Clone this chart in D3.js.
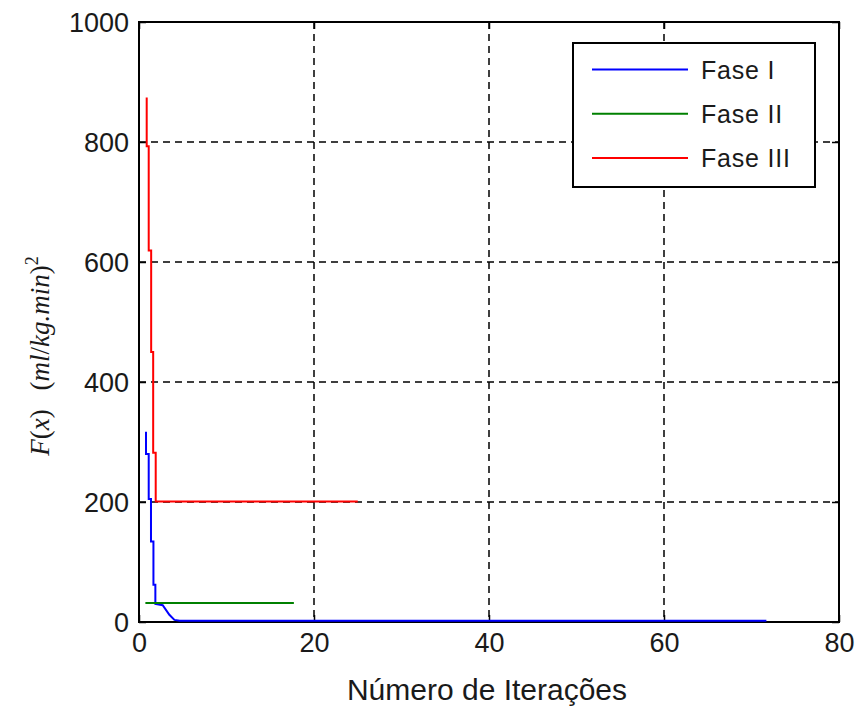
<!DOCTYPE html>
<html>
<head>
<meta charset="utf-8">
<script src="https://cdn.jsdelivr.net/npm/d3@7"></script>
<style>
  body { margin: 0; background: #fff; }
</style>
</head>
<body>
<div id="chart"></div>
<script>
// convergence of the objective per phase

var xTicks = [0, 20, 40, 60, 80];
var yTicks = [0, 200, 400, 600, 800, 1000];

var faseI = [
  [0.80, 317], [0.80, 280], [1.11, 280], [1.11, 205], [1.37, 205], [1.37, 134],
  [1.65, 134], [1.65, 62], [1.87, 62], [1.87, 30], [2.71, 28], [3.47, 12],
  [4.05, 3.5], [4.65, 2], [71.7, 2]
];
var faseII = [[0.73, 31.7], [17.7, 31.7]];
var faseIII = [
  [0.88, 874], [0.88, 793], [1.11, 793], [1.11, 619], [1.39, 619], [1.39, 450],
  [1.62, 450], [1.62, 282], [1.91, 282], [1.91, 201], [25.0, 201]
];

var series = [
  { name: "Fase I", data: faseI, color: "#0000ff" },
  { name: "Fase II", data: faseII, color: "#008000" },
  { name: "Fase III", data: faseIII, color: "#ff0000" }
];

var sans = "'Liberation Sans', Arial, sans-serif";
var serif = "'Liberation Serif', 'DejaVu Serif', serif";

var width = 861, height = 713;
var margin = { top: 22, right: 22, bottom: 91, left: 139 };
var w = width - margin.left - margin.right;
var h = height - margin.top - margin.bottom;

var svg = d3.select("#chart").append("svg")
  .attr("width", width).attr("height", height);
var g = svg.append("g").attr("transform", "translate(" + margin.left + "," + margin.top + ")");

var x = d3.scaleLinear().domain([0, 80]).range([0, w]);
var y = d3.scaleLinear().domain([0, 1000]).range([h, 0]);

// grid
g.selectAll(".gx").data(xTicks.slice(1, -1)).enter().append("line")
  .attr("x1", d => x(d)).attr("x2", d => x(d)).attr("y1", 0).attr("y2", h)
  .attr("stroke", "#000").attr("stroke-width", 1.5).attr("stroke-dasharray", "7,5");
g.selectAll(".gy").data(yTicks.slice(1, -1)).enter().append("line")
  .attr("y1", d => y(d)).attr("y2", d => y(d)).attr("x1", 0).attr("x2", w)
  .attr("stroke", "#000").attr("stroke-width", 1.5).attr("stroke-dasharray", "7,5");

// axes with inward ticks
var fmt = d3.format("d");
var xAxis = g.append("g").attr("transform", "translate(0," + h + ")")
  .call(d3.axisBottom(x).tickValues(xTicks).tickSize(-7).tickPadding(11).tickFormat(fmt));
var xTop = g.append("g")
  .call(d3.axisTop(x).tickValues(xTicks).tickSize(-7).tickFormat(""));
var yAxis = g.append("g")
  .call(d3.axisLeft(y).tickValues(yTicks).tickSize(-7).tickPadding(10).tickFormat(fmt));
var yRight = g.append("g").attr("transform", "translate(" + w + ",0)")
  .call(d3.axisRight(y).tickValues(yTicks).tickSize(-7).tickFormat(""));

[xAxis, xTop, yAxis, yRight].forEach(function(a) {
  a.attr("font-size", null).attr("font-family", null);
  a.select(".domain").remove();
  a.selectAll("line").attr("stroke", "#000").attr("stroke-width", 1.5);
  a.selectAll("text").style("font-size", "27px").style("font-family", sans).attr("fill", "#1a1a1a");
});
yAxis.selectAll("text").attr("dy", "0.36em");

g.append("rect").attr("width", w).attr("height", h)
  .attr("fill", "none").attr("stroke", "#000").attr("stroke-width", 2);

// lines
var line = d3.line().x(d => x(d[0])).y(d => y(d[1]));
series.forEach(function(s) {
  g.append("path").datum(s.data)
    .attr("d", line)
    .attr("fill", "none")
    .attr("stroke", s.color)
    .attr("stroke-width", 2);
});

// labels
svg.append("text")
  .attr("x", margin.left + w / 2 - 2).attr("y", 700)
  .attr("text-anchor", "middle").style("font-size", "30px").style("font-family", sans)
  .attr("fill", "#1a1a1a")
  .text("Número de Iterações");

var yl = svg.append("text")
  .attr("transform", "translate(49,356) rotate(-90)")
  .attr("text-anchor", "middle")
  .style("font-family", serif).style("font-size", "27px").attr("fill", "#1a1a1a");
yl.append("tspan").style("font-style", "italic").text("F");
yl.append("tspan").text("(");
yl.append("tspan").style("font-style", "italic").text("x");
yl.append("tspan").text(")\u2002\u2009(");
yl.append("tspan").style("font-style", "italic").text("ml");
yl.append("tspan").text("/");
yl.append("tspan").style("font-style", "italic").text("kg.min");
yl.append("tspan").text(")");
yl.append("tspan").attr("dy", -11).style("font-size", "18px").text("2");

// legend
var lg = svg.append("g").attr("transform", "translate(573,43)");
lg.append("rect").attr("width", 242).attr("height", 144)
  .attr("fill", "#fff").attr("stroke", "#000").attr("stroke-width", 2);
var rows = lg.selectAll(".row").data(series).enter().append("g")
  .attr("transform", (d, i) => "translate(0," + (26.5 + i * 44.2) + ")");
rows.append("line").attr("x1", 19).attr("x2", 115)
  .attr("stroke", d => d.color).attr("stroke-width", 2);
rows.append("text").attr("x", 128).attr("y", 9)
  .style("font-size", "25px").style("font-family", sans).style("letter-spacing", "0.8px")
  .attr("fill", "#1a1a1a").text(d => d.name);
</script>
</body>
</html>
